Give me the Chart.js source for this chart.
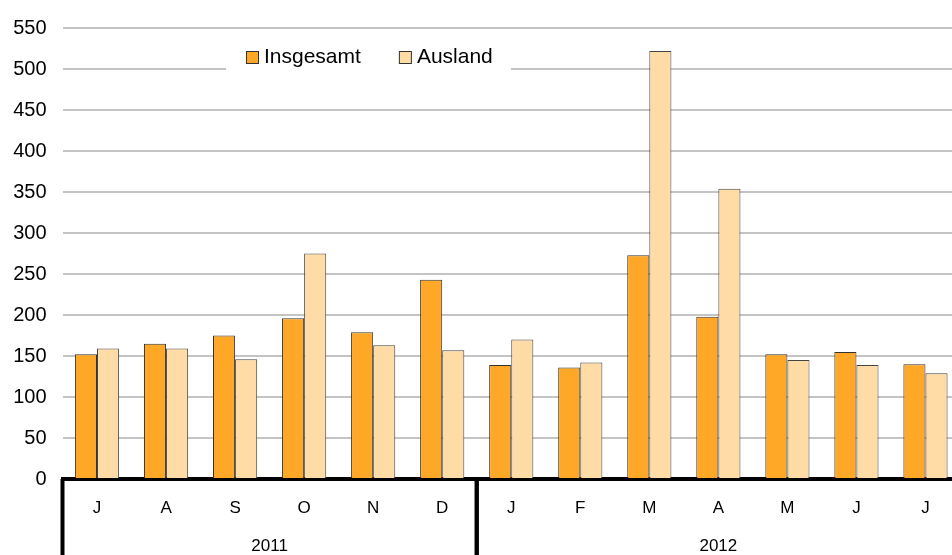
<!DOCTYPE html>
<html>
<head>
<meta charset="utf-8">
<script src="https://cdn.jsdelivr.net/npm/chart.js@4/dist/chart.umd.min.js"></script>
<style>
  html, body { margin: 0; padding: 0; background: #fff; overflow: hidden; }
  #wrap { width: 960px; height: 555px; position: relative; }
</style>
</head>
<body>
<div id="wrap"><canvas id="chart"></canvas></div>
<script>
// Monate (Juli 2011 - Juli 2012)
var months = ['J', 'A', 'S', 'O', 'N', 'D', 'J', 'F', 'M', 'A', 'M', 'J', 'J'];
var years = ['2011', '2012'];
var yearSpans = [6, 7];

// Werte
var insgesamt = [152, 165, 175, 196, 179, 243, 139, 136, 273, 198, 152, 155, 140];
var ausland = [159, 159, 146, 275, 163, 157, 170, 142, 522, 354, 145, 139, 129];

var yTicks = { min: 0, max: 550, step: 50 };

var FONT = '"Liberation Sans", Arial, sans-serif';

// Jahresgruppen und Trennlinien unter der x-Achse
var groupPlugin = {
    id: 'groups',
    afterDraw: function (chart) {
        var c = chart.ctx;
        var x = chart.scales.x;
        var area = chart.chartArea;
        var step = x.getPixelForValue(1) - x.getPixelForValue(0);
        c.save();
        c.strokeStyle = '#000';
        c.lineWidth = 4;
        c.fillStyle = '#000';
        c.font = '17px ' + FONT;
        c.textAlign = 'center';
        c.textBaseline = 'middle';
        var idx = 0;
        for (var g = 0; g < years.length; g++) {
            var left = x.getPixelForValue(idx) - step / 2;
            var right = x.getPixelForValue(idx + yearSpans[g] - 1) + step / 2;
            c.beginPath();
            c.moveTo(left, area.bottom);
            c.lineTo(left, chart.height);
            c.stroke();
            c.beginPath();
            c.moveTo(right, area.bottom);
            c.lineTo(right, chart.height);
            c.stroke();
            c.fillText(years[g], (left + right) / 2, area.bottom + 67);
            idx += yearSpans[g];
        }
        c.restore();
    }
};

// Legende im Diagramm, mit weissem Hintergrund
var legendPlugin = {
    id: 'innerLegend',
    afterDatasetsDraw: function (chart) {
        var c = chart.ctx;
        c.save();
        c.fillStyle = '#fff';
        c.fillRect(226, 40, 285, 36);
        c.font = '21px ' + FONT;
        c.textBaseline = 'middle';
        var xp = 246;
        chart.data.datasets.forEach(function (ds) {
            c.fillStyle = ds.backgroundColor;
            c.fillRect(xp, 51, 13, 13);
            c.strokeStyle = '#333';
            c.lineWidth = 1;
            c.strokeRect(xp + 0.5, 51.5, 12, 12);
            c.fillStyle = '#000';
            c.fillText(ds.label, xp + 18, 57.5);
            xp += 18 + c.measureText(ds.label).width + 38;
        });
        c.restore();
    }
};

var ctx = document.getElementById('chart').getContext('2d');
var chart = new Chart(ctx, {
    type: 'bar',
    data: {
        labels: months,
        datasets: [{
            label: 'Insgesamt',
            data: insgesamt,
            backgroundColor: '#FFA726',
            borderColor: '#333',
            borderWidth: 1
        }, {
            label: 'Ausland',
            data: ausland,
            backgroundColor: '#FFDCA6',
            borderColor: '#444',
            borderWidth: 1
        }]
    },
    options: {
        responsive: true,
        maintainAspectRatio: false,
        animation: false,
        layout: { padding: { left: 12, top: 25, right: 0, bottom: 0 } },
        datasets: {
            bar: { barPercentage: 1, categoryPercentage: 0.64 }
        },
        plugins: {
            legend: { display: false },
            tooltip: { enabled: false }
        },
        scales: {
            x: {
                grid: { display: false },
                border: { display: true, color: '#000', width: 4 },
                ticks: {
                    color: '#000',
                    font: { family: FONT, size: 17 },
                    padding: 11,
                    maxRotation: 0,
                    autoSkip: false
                },
                afterFit: function (scale) { scale.height = 76; }
            },
            y: {
                min: yTicks.min,
                max: yTicks.max,
                grid: { color: '#c4c4c4', lineWidth: 2, drawTicks: false },
                border: { display: false },
                ticks: {
                    stepSize: yTicks.step,
                    color: '#000',
                    font: { family: FONT, size: 20 },
                    padding: 16
                },
                afterFit: function (scale) { scale.width = 50.5; }
            }
        }
    },
    plugins: [groupPlugin, legendPlugin]
});
</script>
</body>
</html>
